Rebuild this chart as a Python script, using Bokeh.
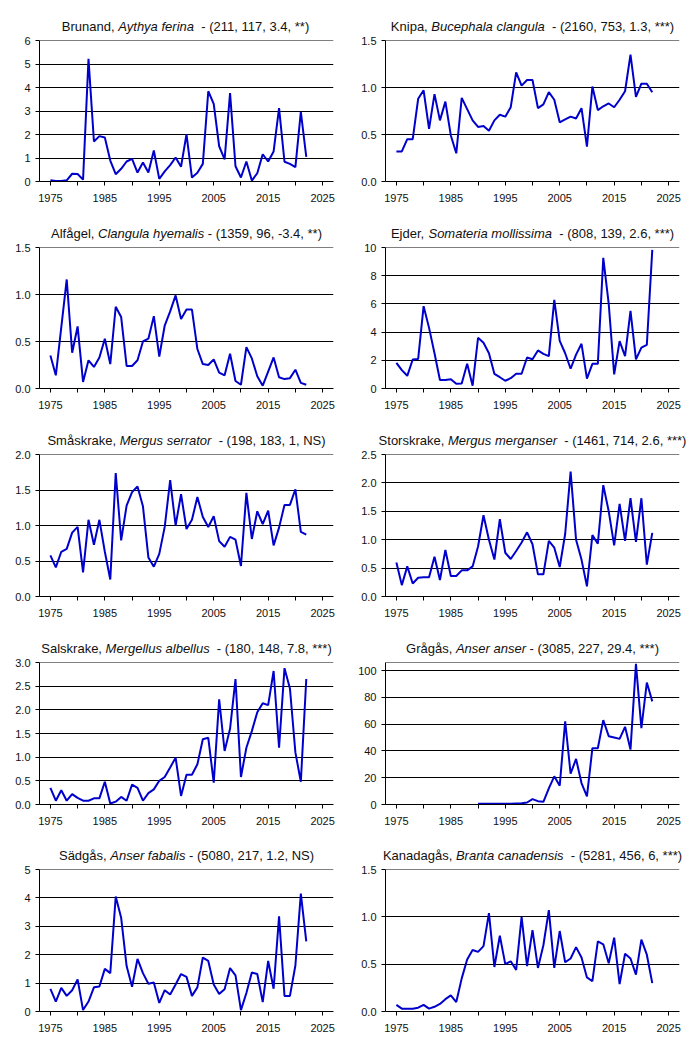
from bokeh.plotting import figure
from bokeh.layouts import column, row
from bokeh.models import FixedTicker, PrintfTickFormatter, Span, Range1d
from bokeh.core.properties import value
from bokeh.embed import file_html
from bokeh.resources import INLINE

years = list(range(1975, 2023))
gragas_years = list(range(1990, 2023))

brunand = [0.05, 0.02, 0.02, 0.05, 0.33, 0.32, 0.08, 5.22, 1.70, 1.93,
           1.87, 0.89, 0.31, 0.54, 0.85, 0.96, 0.38, 0.81, 0.38, 1.32,
           0.11, 0.43, 0.70, 1.02, 0.63, 2.01, 0.17, 0.37, 0.75, 3.84,
           3.30, 1.50, 0.94, 3.76, 0.65, 0.17, 0.85, 0.04, 0.35, 1.16,
           0.85, 1.28, 3.12, 0.84, 0.75, 0.61, 2.96, 1.05]
knipa = [0.32, 0.32, 0.45, 0.45, 0.88, 0.97, 0.56, 0.93, 0.65, 0.85,
         0.49, 0.30, 0.89, 0.77, 0.65, 0.58, 0.59, 0.54, 0.65, 0.71,
         0.69, 0.79, 1.16, 1.02, 1.08, 1.08, 0.78, 0.82, 0.95, 0.87,
         0.63, 0.66, 0.69, 0.67, 0.78, 0.37, 1.01, 0.76, 0.80, 0.83,
         0.79, 0.87, 0.96, 1.35, 0.90, 1.04, 1.04, 0.95]
alfagel = [0.35, 0.14, 0.65, 1.16, 0.38, 0.66, 0.07, 0.30, 0.23, 0.33,
           0.53, 0.26, 0.87, 0.76, 0.24, 0.24, 0.30, 0.50, 0.53, 0.77,
           0.34, 0.67, 0.82, 0.99, 0.74, 0.84, 0.84, 0.42, 0.26, 0.25,
           0.31, 0.17, 0.14, 0.37, 0.08, 0.04, 0.44, 0.32, 0.13, 0.03,
           0.18, 0.33, 0.12, 0.10, 0.11, 0.20, 0.06, 0.04]
ejder = [1.82, 1.30, 0.90, 2.06, 2.10, 5.84, 4.30, 2.50, 0.60, 0.60,
         0.66, 0.33, 0.35, 1.75, 0.20, 3.60, 3.25, 2.50, 1.04, 0.80,
         0.55, 0.73, 1.04, 1.05, 2.20, 2.08, 2.70, 2.46, 2.30, 6.29,
         3.38, 2.50, 1.40, 2.40, 3.17, 0.70, 1.75, 1.75, 9.27, 6.00,
         1.00, 3.36, 2.30, 5.50, 2.06, 2.90, 3.10, 9.83]
smaskrake = [0.58, 0.41, 0.63, 0.67, 0.90, 0.98, 0.34, 1.08, 0.73, 1.08,
             0.63, 0.24, 1.74, 0.79, 1.28, 1.47, 1.55, 1.27, 0.55, 0.42,
             0.60, 0.98, 1.64, 1.00, 1.44, 0.95, 1.08, 1.40, 1.12, 0.98,
             1.13, 0.78, 0.70, 0.84, 0.80, 0.43, 1.46, 0.81, 1.20, 1.02,
             1.21, 0.72, 0.97, 1.29, 1.29, 1.51, 0.91, 0.87]
storskrake = [0.60, 0.20, 0.53, 0.23, 0.33, 0.34, 0.34, 0.70, 0.29, 0.82,
              0.36, 0.36, 0.46, 0.46, 0.53, 0.88, 1.43, 1.00, 0.65, 1.36,
              0.77, 0.66, 0.80, 0.95, 1.13, 0.92, 0.39, 0.39, 0.98, 0.86,
              0.52, 1.10, 2.20, 1.00, 0.65, 0.18, 1.08, 0.93, 1.96, 1.50,
              0.90, 1.63, 0.98, 1.73, 0.96, 1.73, 0.56, 1.12]
salskrake = [0.35, 0.08, 0.30, 0.08, 0.22, 0.14, 0.08, 0.08, 0.13, 0.13,
             0.48, 0.02, 0.06, 0.16, 0.08, 0.42, 0.35, 0.08, 0.24, 0.32,
             0.50, 0.58, 0.78, 0.99, 0.18, 0.63, 0.63, 0.85, 1.38, 1.41,
             0.46, 2.22, 1.13, 1.60, 2.65, 0.58, 1.20, 1.55, 1.95, 2.14,
             2.10, 2.82, 1.20, 2.88, 2.45, 1.10, 0.48, 2.65]
gragas = [0.5, 0.5, 0.5, 0.5, 0.5, 0.5, 0.6, 0.8, 1.0, 1.5,
          4, 2.5, 2, 12, 21, 14, 62, 23, 34, 16,
          6, 42, 42, 63, 51, 50, 49, 58, 41, 105,
          57, 91, 77]
sadgas = [0.80, 0.35, 0.83, 0.55, 0.75, 1.13, 0.05, 0.35, 0.85, 0.88,
          1.50, 1.35, 4.05, 3.30, 1.60, 0.87, 1.85, 1.35, 0.98, 1.02,
          0.30, 0.75, 0.60, 0.95, 1.32, 1.22, 0.55, 0.85, 1.90, 1.78,
          0.95, 0.62, 0.78, 1.53, 1.27, 0.05, 0.65, 1.37, 1.32, 0.33,
          1.78, 0.80, 3.35, 0.55, 0.55, 1.62, 4.15, 2.47]
kanadagas = [0.07, 0.03, 0.03, 0.03, 0.04, 0.07, 0.03, 0.05, 0.08, 0.13,
             0.17, 0.10, 0.35, 0.55, 0.65, 0.63, 0.69, 1.04, 0.47, 0.80,
             0.50, 0.53, 0.44, 1.00, 0.48, 0.86, 0.46, 0.70, 1.07, 0.46,
             0.85, 0.52, 0.56, 0.68, 0.57, 0.36, 0.32, 0.74, 0.71, 0.51,
             0.78, 0.29, 0.61, 0.56, 0.39, 0.76, 0.60, 0.30]

common_names = ["Brunand, ", "Knipa, ", "Alfågel, ", "Ejder, ", "Småskrake, ",
                "Storskrake, ", "Salskrake, ", "Grågås, ", "Sädgås, ", "Kanadagås, "]
latin_names = ["Aythya ferina", "Bucephala clangula", "Clangula hyemalis",
               "Somateria mollissima", "Mergus serrator", "Mergus merganser",
               "Mergellus albellus", "Anser anser", "Anser fabalis", "Branta canadensis"]
stats = ["  - (211, 117, 3.4, **)", "  - (2160, 753, 1.3, ***)", " - (1359, 96, -3.4, **)",
         "  - (808, 139, 2.6, ***)", "  - (198, 183, 1, NS)", "  - (1461, 714, 2.6, ***)",
         "  - (180, 148, 7.8, ***)", " - (3085, 227, 29.4, ***)", " - (5080, 217, 1.2, NS)",
         "  - (5281, 456, 6, ***)"]
series = [brunand, knipa, alfagel, ejder, smaskrake, storskrake, salskrake, gragas, sadgas, kanadagas]
series_years = [years] * 7 + [gragas_years] + [years] * 2
y_max = [6, 1.5, 1.5, 10, 2.0, 2.5, 3.0, 106, 5, 1.5]
y_ticks = [[0, 1, 2, 3, 4, 5, 6], [0, 0.5, 1.0, 1.5], [0, 0.5, 1.0, 1.5],
           [0, 2, 4, 6, 8, 10], [0, 0.5, 1.0, 1.5, 2.0], [0, 0.5, 1.0, 1.5, 2.0, 2.5],
           [0, 0.5, 1.0, 1.5, 2.0, 2.5, 3.0], [0, 20, 40, 60, 80, 100],
           [0, 1, 2, 3, 4, 5], [0, 0.5, 1.0, 1.5]]
y_fmt = ["%d", "%.1f", "%.1f", "%d", "%.1f", "%.1f", "%.1f", "%d", "%d", "%.1f"]
x_major = [1975, 1985, 1995, 2005, 2015, 2025]
x_minor = [1980, 1990, 2000, 2010, 2020]

FONT = "Liberation Sans"
LINE_COLOR = "#0000CC"
TITLE_SIZE = 13

# Arial / Liberation Sans advance widths (1/1000 em)
_W = {' ': 278, ',': 278, '.': 278, '-': 333, '(': 333, ')': 333, '*': 389}
for c in "0123456789":
    _W[c] = 556
_W.update(dict(zip("ABCDEFGHIJKLMNOPQRSTUVWXYZ",
                   [667, 667, 722, 722, 667, 611, 778, 722, 278, 500, 667, 556, 833,
                    722, 778, 667, 778, 722, 667, 611, 722, 667, 944, 667, 667, 611])))
_W.update(dict(zip("abcdefghijklmnopqrstuvwxyz",
                   [556, 556, 500, 556, 556, 278, 556, 556, 222, 222, 500, 222, 833,
                    556, 556, 556, 556, 333, 500, 278, 556, 500, 722, 500, 500, 500])))
_W.update({'å': 556, 'ä': 556})


def tw(s, size):
    return sum(_W.get(c, 556) for c in s) * size / 1000.0


# (title height, chart top border, frame height, chart bottom border)
row_specs = [(34, 6, 141, 26), (34, 6, 141, 26), (34, 6, 142, 26),
             (34, 6, 142, 25), (34, 6, 142, 26)]
COL_W = 346
LEFT, FW, RIGHT = 39, 294, 13
TITLE_Y = 8.5   # vertical middle of the title text, px above strip bottom

rows = []
for r in range(5):
    th, top, fh, bottom = row_specs[r]
    title_row, chart_row = [], []
    for c in range(2):
        i = 2 * r + c
        # title strip (no axes, frame = whole strip, 1 data unit = 1 px)
        t = figure(width=COL_W, height=th, x_range=Range1d(0, COL_W), y_range=Range1d(0, th),
                   output_backend="svg", toolbar_location=None,
                   x_axis_location=None, y_axis_location=None,
                   min_border_left=0, min_border_right=0, min_border_top=0, min_border_bottom=0)
        t.grid.visible = False
        t.outline_line_color = None
        t.background_fill_color = "white"
        t.border_fill_color = "white"
        parts = [(common_names[i], "normal"), (latin_names[i], "italic"), (stats[i], "normal")]
        total = sum(tw(s, TITLE_SIZE) for s, _ in parts)
        xpos = LEFT + FW / 2.0 - total / 2.0
        for s, style in parts:
            lead = len(s) - len(s.lstrip(' '))
            t.text(x=[xpos + tw(' ' * lead, TITLE_SIZE)], y=[TITLE_Y], text=[s.strip(' ')],
                   text_font=value(FONT), text_font_size=value("%dpx" % TITLE_SIZE),
                   text_font_style=value(style), text_color="#111111",
                   text_align="left", text_baseline="middle")
            xpos += tw(s, TITLE_SIZE)
        title_row.append(t)

        # chart
        p = figure(width=COL_W, height=top + fh + bottom,
                   x_range=Range1d(1973, 2027), y_range=Range1d(0, y_max[i]),
                   output_backend="svg", toolbar_location=None,
                   min_border_left=LEFT, min_border_right=RIGHT,
                   min_border_top=top, min_border_bottom=bottom)
        p.outline_line_color = None
        p.background_fill_color = "white"
        p.border_fill_color = "white"
        p.xgrid.visible = False
        p.ygrid.grid_line_color = "black"
        p.ygrid.grid_line_width = 1

        p.xaxis.ticker = FixedTicker(ticks=x_major, minor_ticks=x_minor)
        p.yaxis.ticker = FixedTicker(ticks=y_ticks[i])
        p.yaxis.formatter = PrintfTickFormatter(format=y_fmt[i])
        for ax in (p.xaxis, p.yaxis):
            ax.axis_line_color = "black"
            ax.major_tick_line_color = "black"
            ax.major_tick_in = 0
            ax.major_tick_out = 4
            ax.major_label_text_font = FONT
            ax.major_label_text_font_size = "11px"
            ax.major_label_text_color = "#111111"
        p.xaxis.minor_tick_line_color = "black"
        p.xaxis.minor_tick_in = 0
        p.xaxis.minor_tick_out = 4
        p.yaxis.minor_tick_line_color = None
        p.xaxis.major_label_standoff = 8
        p.yaxis.major_label_standoff = 5

        p.add_layout(Span(location=y_max[i], dimension="width", line_color="black", line_width=1))
        p.line(series_years[i], series[i], line_color=LINE_COLOR, line_width=2)
        chart_row.append(p)
    rows.append(row(*title_row, spacing=0))
    rows.append(row(*chart_row, spacing=0))

layout = column(*rows, spacing=0)

open("out.html", "w").write(file_html(layout, INLINE))
